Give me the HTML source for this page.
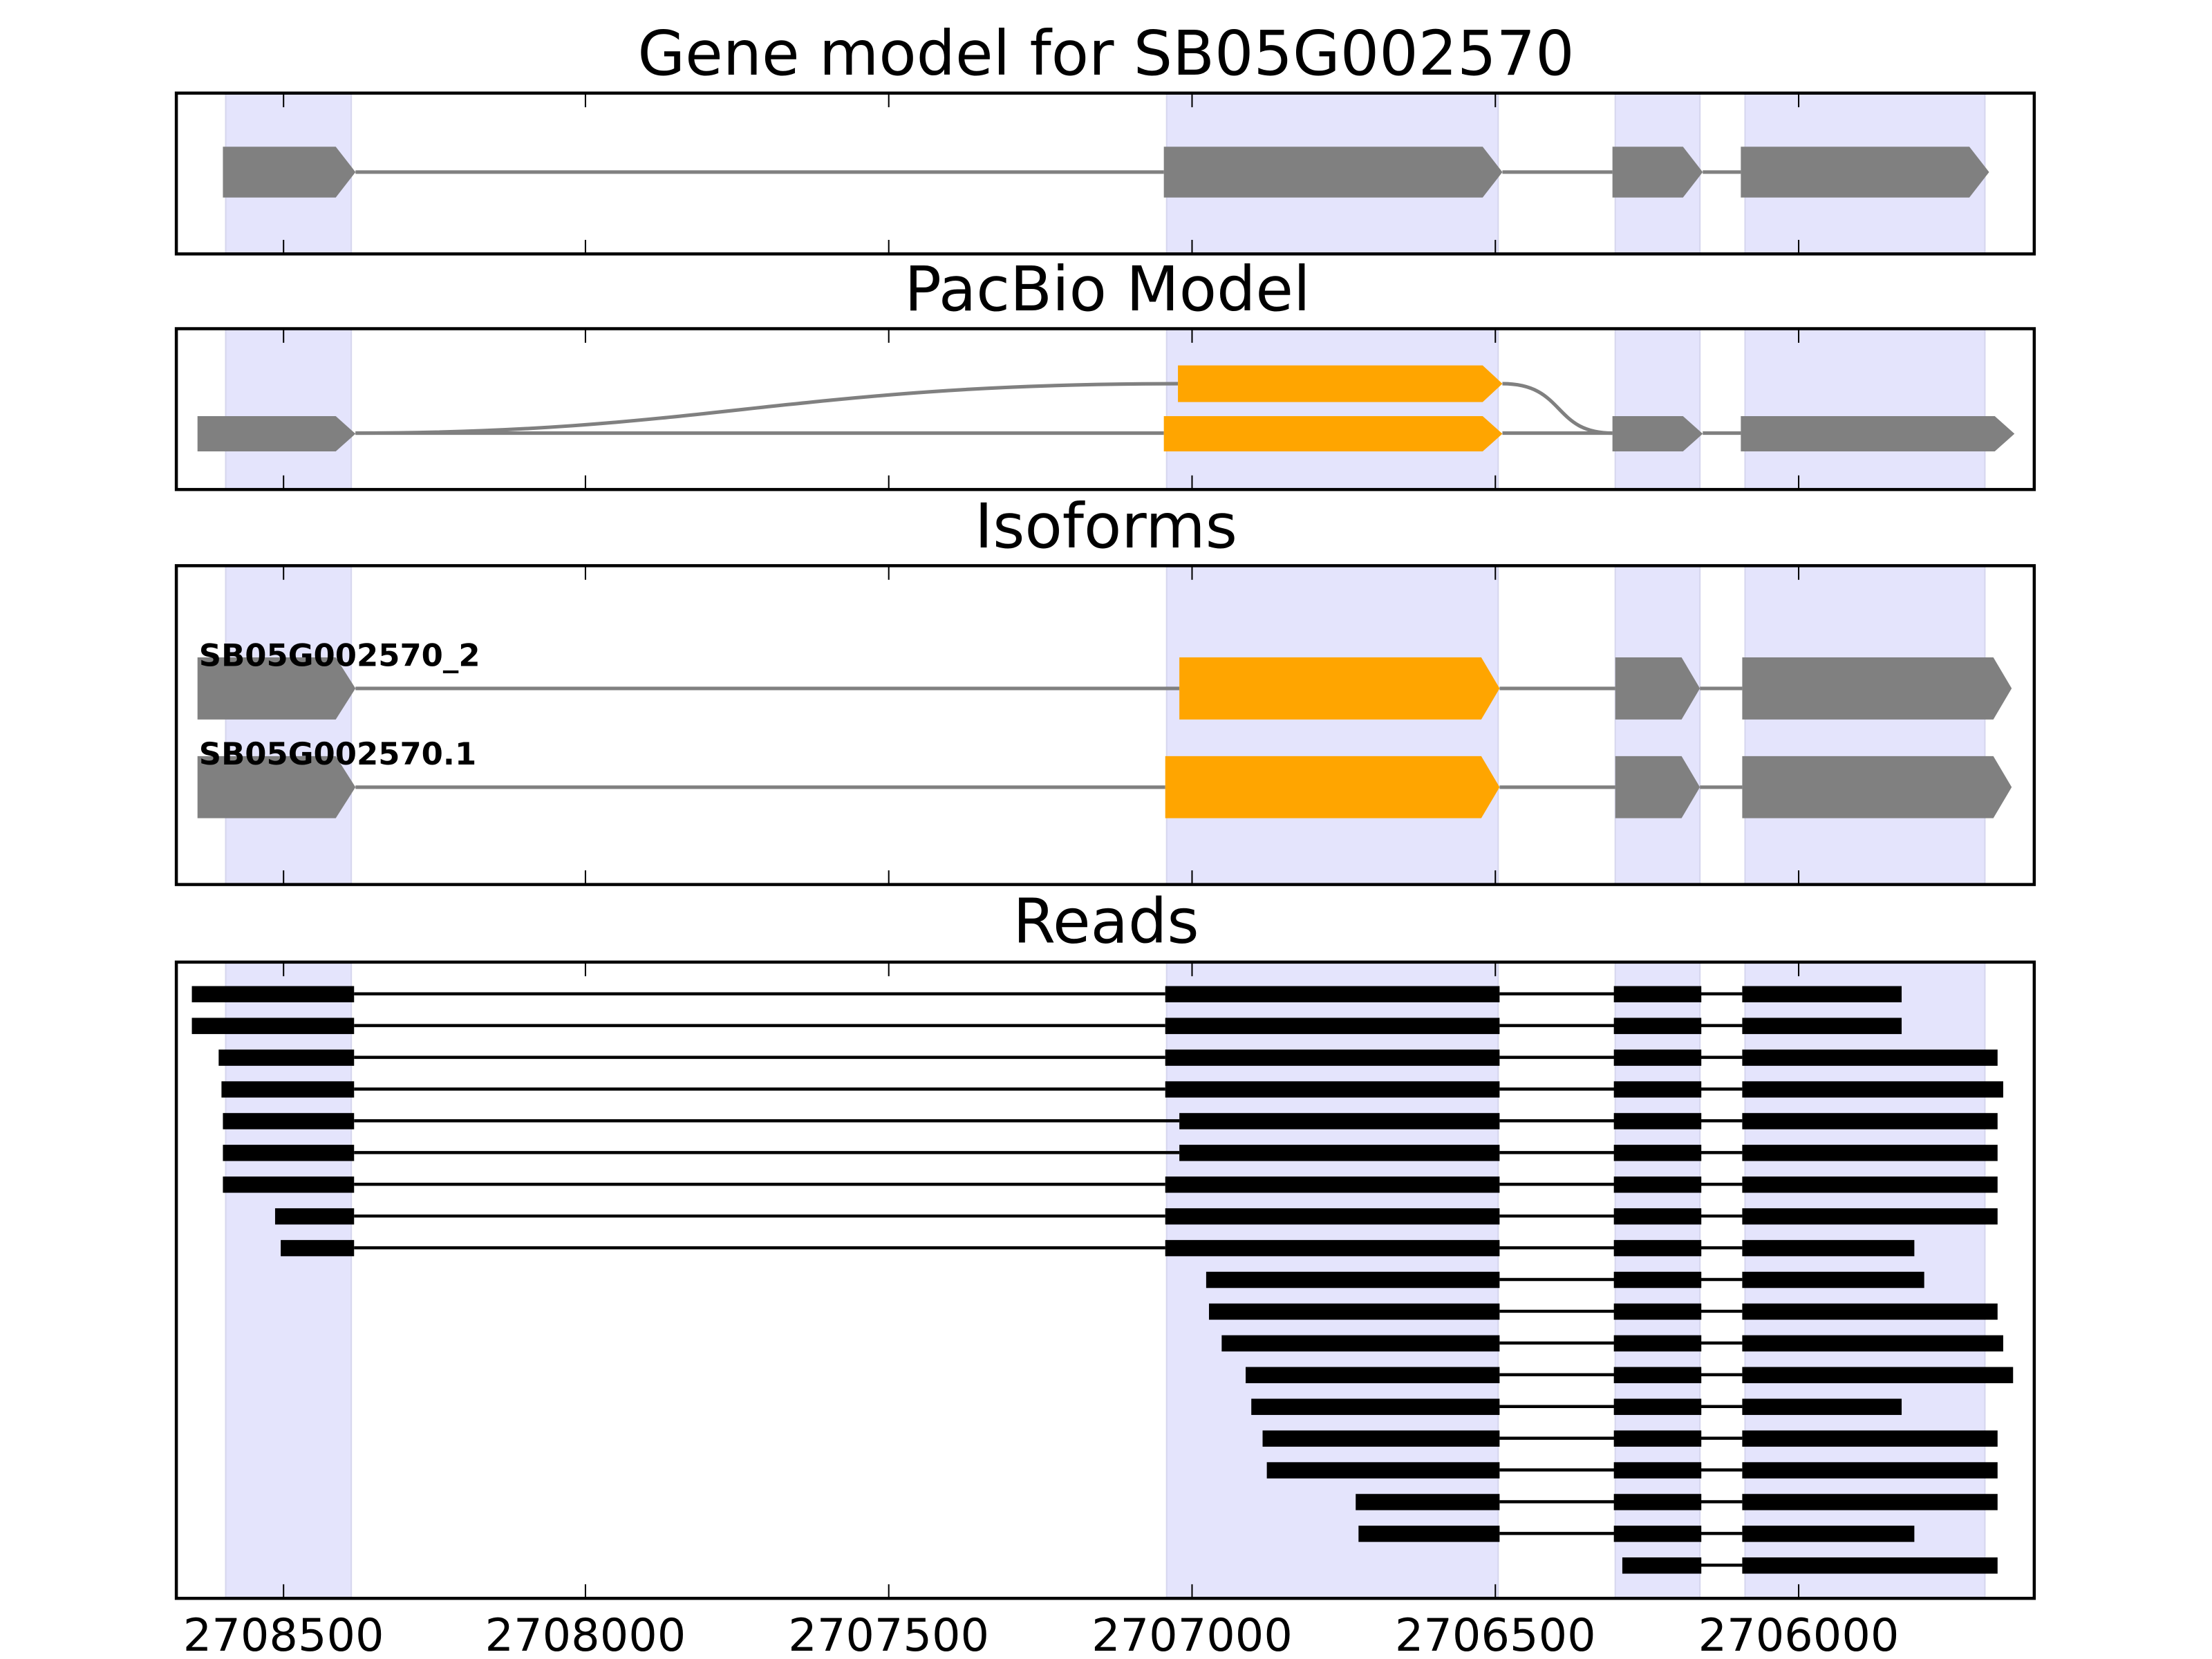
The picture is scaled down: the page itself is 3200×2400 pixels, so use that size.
<!DOCTYPE html>
<html><head><meta charset="utf-8"><style>html,body{margin:0;padding:0;background:#fff}svg{display:block}</style></head>
<body>
<svg width="3200" height="2400" viewBox="0 0 1568 1176" xmlns="http://www.w3.org/2000/svg" font-family="'DejaVu Sans','Liberation Sans',sans-serif">
<rect width="1568" height="1176" fill="#fff"/>
<g fill="#e4e4fc" stroke="#d6d6ee" stroke-width="1">
<rect x="160" y="66" width="89" height="114"/><rect x="827" y="66" width="235" height="114"/><rect x="1145" y="66" width="60" height="114"/><rect x="1237" y="66" width="170" height="114"/>
<rect x="160" y="233" width="89" height="114"/><rect x="827" y="233" width="235" height="114"/><rect x="1145" y="233" width="60" height="114"/><rect x="1237" y="233" width="170" height="114"/>
<rect x="160" y="401" width="89" height="226"/><rect x="827" y="401" width="235" height="226"/><rect x="1145" y="401" width="60" height="226"/><rect x="1237" y="401" width="170" height="226"/>
<rect x="160" y="682" width="89" height="451"/><rect x="827" y="682" width="235" height="451"/><rect x="1145" y="682" width="60" height="451"/><rect x="1237" y="682" width="170" height="451"/>
</g>
<g font-size="43.5" text-anchor="middle" fill="#000">
<text x="784" y="53">Gene model for SB05G002570</text>
<text x="785" y="220">PacBio Model</text>
<text x="784" y="388">Isoforms</text>
<text x="784" y="668">Reads</text>
</g>
<!-- Panel 1 -->
<g stroke="#808080" stroke-width="2.5" fill="none"><line x1="252" y1="122" x2="825" y2="122"/><line x1="1065" y1="122" x2="1143" y2="122"/><line x1="1207" y1="122" x2="1234" y2="122"/></g>
<g fill="#808080">
<polygon points="158,104 238,104 252,122 238,140 158,140"/>
<polygon points="825,104 1051,104 1065,122 1051,140 825,140"/>
<polygon points="1143,104 1193,104 1207,122 1193,140 1143,140"/>
<polygon points="1234,104 1396,104 1410,122 1396,140 1234,140"/>
</g>
<!-- Panel 2 -->
<g stroke="#808080" stroke-width="2.5" fill="none">
<line x1="252" y1="307" x2="825" y2="307"/><line x1="1065" y1="307" x2="1143" y2="307"/><line x1="1207" y1="307" x2="1234" y2="307"/>
<path d="M252,307 C500,307 560,272 835,272"/>
<path d="M1065,272 C1110,272 1100,307 1143,307"/>
</g>
<polygon fill="#ffa500" points="835,259 1051,259 1065,272 1051,285 835,285"/>
<polygon fill="#ffa500" points="825,295 1051,295 1065,307.5 1051,320 825,320"/>
<g fill="#808080">
<polygon points="140,295 238,295 252,307.5 238,320 140,320"/>
<polygon points="1143,295 1193,295 1207,307.5 1193,320 1143,320"/>
<polygon points="1234,295 1414,295 1428,307.5 1414,320 1234,320"/>
</g>
<!-- Panel 3 -->
<g stroke="#808080" stroke-width="2.5" fill="none">
<line x1="252" y1="488" x2="836" y2="488"/><line x1="1063" y1="488" x2="1145" y2="488"/><line x1="1205" y1="488" x2="1235" y2="488"/>
<line x1="252" y1="558" x2="826" y2="558"/><line x1="1063" y1="558" x2="1145" y2="558"/><line x1="1205" y1="558" x2="1235" y2="558"/>
</g>
<g fill="#808080">
<polygon points="140,466 238,466 252,488 238,510 140,510"/>
<polygon points="1145,466 1192,466 1205,488 1192,510 1145,510"/>
<polygon points="1235,466 1413,466 1426,488 1413,510 1235,510"/>
<polygon points="140,536 238,536 252,558 238,580 140,580"/>
<polygon points="1145,536 1192,536 1205,558 1192,580 1145,580"/>
<polygon points="1235,536 1413,536 1426,558 1413,580 1235,580"/>
</g>
<polygon fill="#ffa500" points="836,466 1050,466 1063,488 1050,510 836,510"/>
<polygon fill="#ffa500" points="826,536 1050,536 1063,558 1050,580 826,580"/>
<g font-size="22" font-weight="bold" fill="#000">
<text x="141" y="472">SB05G002570_2</text>
<text x="141" y="542">SB05G002570.1</text>
</g>
<!-- Reads -->
<g stroke="#000" stroke-width="2.2">
<line x1="251" y1="704.5" x2="826" y2="704.5"/><line x1="251" y1="727" x2="826" y2="727"/><line x1="251" y1="749.5" x2="826" y2="749.5"/><line x1="251" y1="772" x2="826" y2="772"/><line x1="251" y1="794.5" x2="836" y2="794.5"/><line x1="251" y1="817" x2="836" y2="817"/><line x1="251" y1="839.5" x2="826" y2="839.5"/><line x1="251" y1="862" x2="826" y2="862"/><line x1="251" y1="884.5" x2="826" y2="884.5"/>
</g>
<g stroke="#000" stroke-width="2.2">
<line x1="1063" y1="704.5" x2="1235" y2="704.5"/><line x1="1063" y1="727" x2="1235" y2="727"/><line x1="1063" y1="749.5" x2="1235" y2="749.5"/><line x1="1063" y1="772" x2="1235" y2="772"/><line x1="1063" y1="794.5" x2="1235" y2="794.5"/><line x1="1063" y1="817" x2="1235" y2="817"/><line x1="1063" y1="839.5" x2="1235" y2="839.5"/><line x1="1063" y1="862" x2="1235" y2="862"/><line x1="1063" y1="884.5" x2="1235" y2="884.5"/><line x1="1063" y1="907" x2="1235" y2="907"/><line x1="1063" y1="929.5" x2="1235" y2="929.5"/><line x1="1063" y1="952" x2="1235" y2="952"/><line x1="1063" y1="974.5" x2="1235" y2="974.5"/><line x1="1063" y1="997" x2="1235" y2="997"/><line x1="1063" y1="1019.5" x2="1235" y2="1019.5"/><line x1="1063" y1="1042" x2="1235" y2="1042"/><line x1="1063" y1="1064.5" x2="1235" y2="1064.5"/><line x1="1063" y1="1087" x2="1235" y2="1087"/><line x1="1205" y1="1109.5" x2="1235" y2="1109.5"/>
</g>
<g fill="#000">
<rect x="136" y="699" width="115" height="11.5"/><rect x="136" y="721.5" width="115" height="11.5"/><rect x="155" y="744" width="96" height="11.5"/><rect x="157" y="766.5" width="94" height="11.5"/><rect x="158" y="789" width="93" height="11.5"/><rect x="158" y="811.5" width="93" height="11.5"/><rect x="158" y="834" width="93" height="11.5"/><rect x="195" y="856.5" width="56" height="11.5"/><rect x="199" y="879" width="52" height="11.5"/>
<rect x="826" y="699" width="237" height="11.5"/><rect x="826" y="721.5" width="237" height="11.5"/><rect x="826" y="744" width="237" height="11.5"/><rect x="826" y="766.5" width="237" height="11.5"/><rect x="836" y="789" width="227" height="11.5"/><rect x="836" y="811.5" width="227" height="11.5"/><rect x="826" y="834" width="237" height="11.5"/><rect x="826" y="856.5" width="237" height="11.5"/><rect x="826" y="879" width="237" height="11.5"/>
<rect x="855" y="901.5" width="208" height="11.5"/><rect x="857" y="924" width="206" height="11.5"/><rect x="866" y="946.5" width="197" height="11.5"/><rect x="883" y="969" width="180" height="11.5"/><rect x="887" y="991.5" width="176" height="11.5"/><rect x="895" y="1014" width="168" height="11.5"/><rect x="898" y="1036.5" width="165" height="11.5"/><rect x="961" y="1059" width="102" height="11.5"/><rect x="963" y="1081.5" width="100" height="11.5"/>
<rect x="1144" y="699" width="62" height="11.5"/><rect x="1144" y="721.5" width="62" height="11.5"/><rect x="1144" y="744" width="62" height="11.5"/><rect x="1144" y="766.5" width="62" height="11.5"/><rect x="1144" y="789" width="62" height="11.5"/><rect x="1144" y="811.5" width="62" height="11.5"/><rect x="1144" y="834" width="62" height="11.5"/><rect x="1144" y="856.5" width="62" height="11.5"/><rect x="1144" y="879" width="62" height="11.5"/><rect x="1144" y="901.5" width="62" height="11.5"/><rect x="1144" y="924" width="62" height="11.5"/><rect x="1144" y="946.5" width="62" height="11.5"/><rect x="1144" y="969" width="62" height="11.5"/><rect x="1144" y="991.5" width="62" height="11.5"/><rect x="1144" y="1014" width="62" height="11.5"/><rect x="1144" y="1036.5" width="62" height="11.5"/><rect x="1144" y="1059" width="62" height="11.5"/><rect x="1144" y="1081.5" width="62" height="11.5"/><rect x="1150" y="1104" width="56" height="11.5"/>
<rect x="1235" y="699" width="113" height="11.5"/><rect x="1235" y="721.5" width="113" height="11.5"/><rect x="1235" y="744" width="181" height="11.5"/><rect x="1235" y="766.5" width="185" height="11.5"/><rect x="1235" y="789" width="181" height="11.5"/><rect x="1235" y="811.5" width="181" height="11.5"/><rect x="1235" y="834" width="181" height="11.5"/><rect x="1235" y="856.5" width="181" height="11.5"/><rect x="1235" y="879" width="122" height="11.5"/><rect x="1235" y="901.5" width="129" height="11.5"/><rect x="1235" y="924" width="181" height="11.5"/><rect x="1235" y="946.5" width="185" height="11.5"/><rect x="1235" y="969" width="192" height="11.5"/><rect x="1235" y="991.5" width="113" height="11.5"/><rect x="1235" y="1014" width="181" height="11.5"/><rect x="1235" y="1036.5" width="181" height="11.5"/><rect x="1235" y="1059" width="181" height="11.5"/><rect x="1235" y="1081.5" width="122" height="11.5"/><rect x="1235" y="1104" width="181" height="11.5"/>
</g>
<g stroke="#000" stroke-width="1">
<path d="M201,66v10M415,66v10M630,66v10M845,66v10M1060,66v10M1275,66v10M201,180v-10M415,180v-10M630,180v-10M845,180v-10M1060,180v-10M1275,180v-10"/>
<path d="M201,233v10M415,233v10M630,233v10M845,233v10M1060,233v10M1275,233v10M201,347v-10M415,347v-10M630,347v-10M845,347v-10M1060,347v-10M1275,347v-10"/>
<path d="M201,401v10M415,401v10M630,401v10M845,401v10M1060,401v10M1275,401v10M201,627v-10M415,627v-10M630,627v-10M845,627v-10M1060,627v-10M1275,627v-10"/>
<path d="M201,682v10M415,682v10M630,682v10M845,682v10M1060,682v10M1275,682v10M201,1133v-10M415,1133v-10M630,1133v-10M845,1133v-10M1060,1133v-10M1275,1133v-10"/>
</g>
<g fill="none" stroke="#000" stroke-width="2.2">
<rect x="125" y="66" width="1317" height="114"/>
<rect x="125" y="233" width="1317" height="114"/>
<rect x="125" y="401" width="1317" height="226"/>
<rect x="125" y="682" width="1317" height="451"/>
</g>
<g font-size="32" text-anchor="middle" fill="#000">
<text x="201" y="1170">2708500</text><text x="415" y="1170">2708000</text><text x="630" y="1170">2707500</text><text x="845" y="1170">2707000</text><text x="1060" y="1170">2706500</text><text x="1275" y="1170">2706000</text>
</g>
</svg>
</body></html>
